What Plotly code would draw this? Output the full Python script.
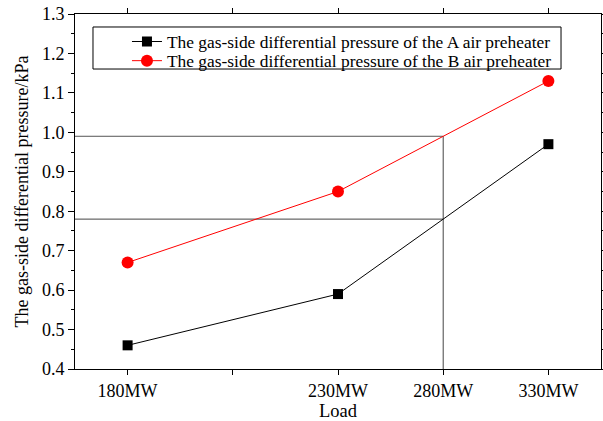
import plotly.graph_objects as go

# ---- data ----
x_tick_labels = ["180MW", "", "230MW", "280MW", "330MW"]
loads = ["180MW", "230MW", "330MW"]
dp_A = [0.46, 0.59, 0.97]
dp_B = [0.67, 0.85, 1.13]
ref_load = "280MW"
ref_A = 0.78
ref_B = 0.99
y_ticks = [0.4, 0.5, 0.6, 0.7, 0.8, 0.9, 1.0, 1.1, 1.2, 1.3]

name_A = "The gas-side differential pressure of the A air preheater"
name_B = "The gas-side differential pressure of the B air preheater"

pos = {lab: i + 1 for i, lab in enumerate(x_tick_labels) if lab}
xs = [pos[l] for l in loads]
xref = pos[ref_load]
x_min = 0.5
x_max = len(x_tick_labels) + 0.5

FONT = "Liberation Serif, Times New Roman, serif"

fig = go.Figure()

# reference guide lines
fig.add_trace(go.Scatter(x=[x_min, xref], y=[ref_B, ref_B], mode="lines",
                         line=dict(color="#555555", width=1), showlegend=False, hoverinfo="skip"))
fig.add_trace(go.Scatter(x=[x_min, xref], y=[ref_A, ref_A], mode="lines",
                         line=dict(color="#444444", width=1), showlegend=False, hoverinfo="skip"))
fig.add_trace(go.Scatter(x=[xref, xref], y=[y_ticks[0], ref_B], mode="lines",
                         line=dict(color="#444444", width=1), showlegend=False, hoverinfo="skip"))

fig.add_trace(go.Scatter(x=xs, y=dp_A, mode="lines+markers", name=name_A,
                         line=dict(color="black", width=1),
                         marker=dict(symbol="square", size=10, color="black"),
                         legend="legend"))
fig.add_trace(go.Scatter(x=xs, y=dp_B, mode="lines+markers", name=name_B,
                         line=dict(color="red", width=1),
                         marker=dict(symbol="circle", size=12, color="red"),
                         legend="legend2"))

# legend frame
fig.add_shape(type="rect", xref="paper", yref="paper",
              x0=0.0342, x1=0.924, y0=0.845, y1=0.9634,
              line=dict(color="black", width=1), fillcolor="rgba(0,0,0,0)")

leg_common = dict(xanchor="left", yanchor="middle", bgcolor="rgba(0,0,0,0)", borderwidth=0,
                  font=dict(family=FONT, size=17.4, color="black"))

fig.update_layout(
    width=603, height=421,
    margin=dict(l=75, r=2, t=14, b=52),
    paper_bgcolor="white", plot_bgcolor="white",
    font=dict(family=FONT, color="black", size=18),
    legend=dict(x=0.0988, y=0.922, **leg_common),
    legend2=dict(x=0.0988, y=0.868, **leg_common),
    showlegend=True,
)

fig.update_xaxes(range=[x_min, x_max], tickmode="array",
                 tickvals=list(range(1, len(x_tick_labels) + 1)),
                 ticktext=x_tick_labels, automargin=False, ticklabeloverflow="allow",
                 showline=True, linecolor="black", linewidth=1, mirror="ticks",
                 ticks="outside", ticklen=5, tickcolor="black",
                 showgrid=False, zeroline=False,
                 tickfont=dict(family=FONT, size=18),
                 title=dict(text="Load", font=dict(family=FONT, size=18.5), standoff=4))

fig.update_yaxes(range=[0.4, 1.3], tickmode="array", tickvals=y_ticks,
                 ticktext=[f"{v:.1f}" for v in y_ticks], automargin=False,
                 ticklabeloverflow="allow",
                 showline=True, linecolor="black", linewidth=1, mirror="ticks",
                 ticks="outside", ticklen=6, tickcolor="black",
                 minor=dict(ticks="outside", ticklen=3, dtick=0.05, tickcolor="black", showgrid=False),
                 showgrid=False, zeroline=False,
                 tickfont=dict(family=FONT, size=18),
                 title=dict(text="The gas-side differential pressure/kPa",
                            font=dict(family=FONT, size=18), standoff=8.5))

fig.write_html("out.html", config={"displayModeBar": False},
               post_script="document.body.style.margin='0';document.body.style.overflow='hidden';")
